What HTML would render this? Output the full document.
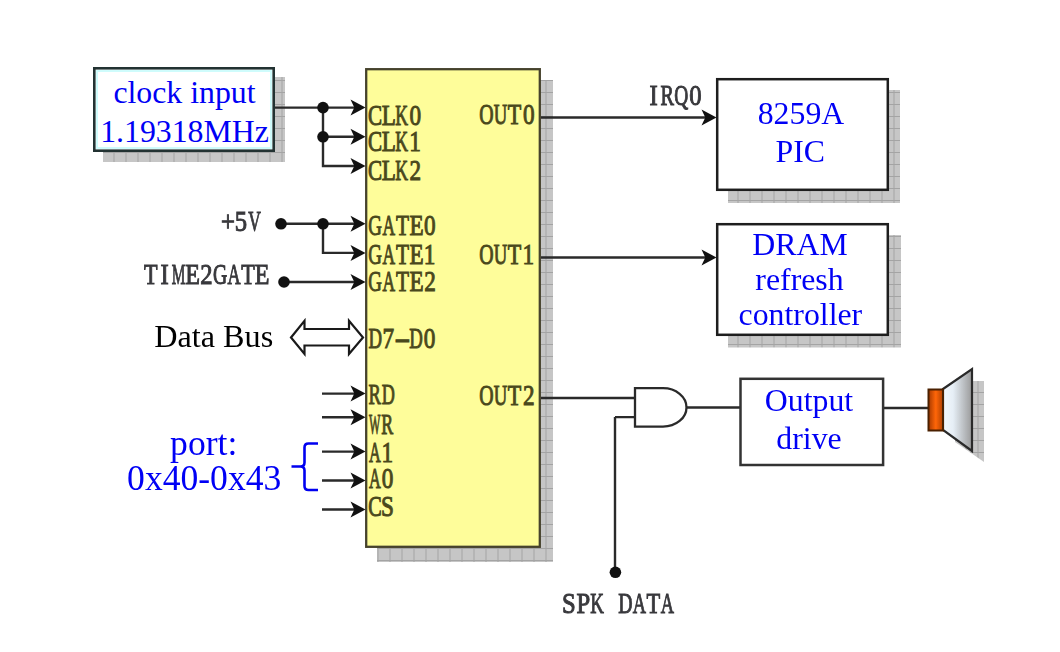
<!DOCTYPE html>
<html><head><meta charset="utf-8">
<style>
html,body{margin:0;padding:0;background:#fff;width:1060px;height:652px;overflow:hidden}
svg{display:block;filter:blur(0.35px)}
.chip{font-family:"Liberation Serif",serif;font-weight:normal;font-size:28.5px;fill:#3e3c14;stroke:#3e3c14;stroke-width:0.6}
.lbl{font-family:"Liberation Serif",serif;font-weight:bold;font-size:28px;fill:#3c3c40}
.blue{font-family:"Liberation Serif",serif;font-size:31.8px;fill:#0000f5;text-anchor:middle}
.blk{font-family:"Liberation Serif",serif;font-size:32.2px;fill:#000}
</style></head>
<body>
<svg width="1060" height="652" viewBox="0 0 1060 652">
<defs>
<pattern id="grid" x="5.5" y="8" width="12" height="12" patternUnits="userSpaceOnUse">
<rect width="12" height="12" fill="#c6c6c6"/>
<path d="M0 0.5H12M0.5 0V12" stroke="#a4a4a4" stroke-width="1"/>
</pattern>
<linearGradient id="org" x1="0" y1="0" x2="1" y2="0">
<stop offset="0" stop-color="#a83a00"/><stop offset="0.5" stop-color="#ff6608"/><stop offset="1" stop-color="#b04000"/>
</linearGradient>
<linearGradient id="cone" x1="0" y1="0" x2="1" y2="0">
<stop offset="0" stop-color="#f4f8fc"/><stop offset="0.35" stop-color="#e6eef6"/><stop offset="1" stop-color="#9a9a9a"/>
</linearGradient>
</defs>

<!-- clock input box -->
<rect x="103" y="77" width="182" height="85" fill="url(#grid)"/>
<rect x="94.3" y="68.3" width="179.4" height="82.4" fill="#fff" stroke="#223232" stroke-width="2.6"/>
<rect x="97" y="71" width="174" height="77" fill="none" stroke="#cffcfc" stroke-width="2"/>
<text class="blue" x="184.5" y="103">clock input</text>
<text class="blue" x="184.5" y="142.2">1.19318MHz</text>

<!-- chip -->
<rect x="377" y="80" width="176" height="482" fill="url(#grid)"/>
<rect x="366.2" y="69.2" width="173.6" height="477.6" fill="#fefd9a" stroke="#46422c" stroke-width="2.3"/>

<!-- chip labels -->
<g style="font-family:'Liberation Serif',serif;font-weight:normal;font-size:29px" fill="#4a481c"><text transform="translate(368.10,124.6) scale(0.730,1)" x="0" y="0" stroke="#4a481c" stroke-width="1.0">C</text><text transform="translate(381.73,124.6) scale(0.798,1)" x="0" y="0" stroke="#4a481c" stroke-width="1.0">L</text><text transform="translate(395.31,124.6) scale(0.610,1)" x="0" y="0" stroke="#4a481c" stroke-width="1.0">K</text><text transform="translate(409.49,124.6) scale(0.800,1)" x="0" y="0" stroke="#4a481c" stroke-width="1.0">0</text></g>
<g style="font-family:'Liberation Serif',serif;font-weight:normal;font-size:29px" fill="#4a481c"><text transform="translate(368.10,151.2) scale(0.730,1)" x="0" y="0" stroke="#4a481c" stroke-width="1.0">C</text><text transform="translate(381.73,151.2) scale(0.798,1)" x="0" y="0" stroke="#4a481c" stroke-width="1.0">L</text><text transform="translate(395.31,151.2) scale(0.610,1)" x="0" y="0" stroke="#4a481c" stroke-width="1.0">K</text><text transform="translate(409.16,151.2) scale(0.800,1)" x="0" y="0" stroke="#4a481c" stroke-width="1.0">1</text></g>
<g style="font-family:'Liberation Serif',serif;font-weight:normal;font-size:29px" fill="#4a481c"><text transform="translate(368.10,180) scale(0.730,1)" x="0" y="0" stroke="#4a481c" stroke-width="1.0">C</text><text transform="translate(381.73,180) scale(0.798,1)" x="0" y="0" stroke="#4a481c" stroke-width="1.0">L</text><text transform="translate(395.31,180) scale(0.610,1)" x="0" y="0" stroke="#4a481c" stroke-width="1.0">K</text><text transform="translate(409.62,180) scale(0.800,1)" x="0" y="0" stroke="#4a481c" stroke-width="1.0">2</text></g>
<g style="font-family:'Liberation Serif',serif;font-weight:normal;font-size:29px" fill="#4a481c"><text transform="translate(368.31,234.5) scale(0.652,1)" x="0" y="0" stroke="#4a481c" stroke-width="1.0">G</text><text transform="translate(382.57,234.5) scale(0.601,1)" x="0" y="0" stroke="#4a481c" stroke-width="1.0">A</text><text transform="translate(396.02,234.5) scale(0.736,1)" x="0" y="0" stroke="#4a481c" stroke-width="1.0">T</text><text transform="translate(409.40,234.5) scale(0.797,1)" x="0" y="0" stroke="#4a481c" stroke-width="1.0">E</text><text transform="translate(424.07,234.5) scale(0.800,1)" x="0" y="0" stroke="#4a481c" stroke-width="1.0">0</text></g>
<g style="font-family:'Liberation Serif',serif;font-weight:normal;font-size:29px" fill="#4a481c"><text transform="translate(368.31,263.6) scale(0.652,1)" x="0" y="0" stroke="#4a481c" stroke-width="1.0">G</text><text transform="translate(382.57,263.6) scale(0.601,1)" x="0" y="0" stroke="#4a481c" stroke-width="1.0">A</text><text transform="translate(396.02,263.6) scale(0.736,1)" x="0" y="0" stroke="#4a481c" stroke-width="1.0">T</text><text transform="translate(409.40,263.6) scale(0.797,1)" x="0" y="0" stroke="#4a481c" stroke-width="1.0">E</text><text transform="translate(423.75,263.6) scale(0.800,1)" x="0" y="0" stroke="#4a481c" stroke-width="1.0">1</text></g>
<g style="font-family:'Liberation Serif',serif;font-weight:normal;font-size:29px" fill="#4a481c"><text transform="translate(368.31,290.5) scale(0.652,1)" x="0" y="0" stroke="#4a481c" stroke-width="1.0">G</text><text transform="translate(382.57,290.5) scale(0.601,1)" x="0" y="0" stroke="#4a481c" stroke-width="1.0">A</text><text transform="translate(396.02,290.5) scale(0.736,1)" x="0" y="0" stroke="#4a481c" stroke-width="1.0">T</text><text transform="translate(409.40,290.5) scale(0.797,1)" x="0" y="0" stroke="#4a481c" stroke-width="1.0">E</text><text transform="translate(424.20,290.5) scale(0.800,1)" x="0" y="0" stroke="#4a481c" stroke-width="1.0">2</text></g>
<g style="font-family:'Liberation Serif',serif;font-weight:normal;font-size:29px" fill="#4a481c"><text transform="translate(368.44,348.2) scale(0.647,1)" x="0" y="0" stroke="#4a481c" stroke-width="1.0">D</text><text transform="translate(382.50,348.2) scale(0.800,1)" x="0" y="0" stroke="#4a481c" stroke-width="1.0">7</text><text transform="translate(394.47,348.2) scale(1.627,1)" x="0" y="0" stroke="#4a481c" stroke-width="1.0">-</text><text transform="translate(409.30,348.2) scale(0.647,1)" x="0" y="0" stroke="#4a481c" stroke-width="1.0">D</text><text transform="translate(423.79,348.2) scale(0.800,1)" x="0" y="0" stroke="#4a481c" stroke-width="1.0">0</text></g>
<g style="font-family:'Liberation Serif',serif;font-weight:normal;font-size:29px" fill="#4a481c"><text transform="translate(368.52,404.4) scale(0.641,1)" x="0" y="0" stroke="#4a481c" stroke-width="1.0">R</text><text transform="translate(381.69,404.4) scale(0.625,1)" x="0" y="0" stroke="#4a481c" stroke-width="1.0">D</text></g>
<g style="font-family:'Liberation Serif',serif;font-weight:normal;font-size:29px" fill="#4a481c"><text transform="translate(369.02,433.8) scale(0.417,1)" x="0" y="0" stroke="#4a481c" stroke-width="1.0">W</text><text transform="translate(381.17,433.8) scale(0.617,1)" x="0" y="0" stroke="#4a481c" stroke-width="1.0">R</text></g>
<g style="font-family:'Liberation Serif',serif;font-weight:normal;font-size:29px" fill="#4a481c"><text transform="translate(368.88,461.6) scale(0.563,1)" x="0" y="0" stroke="#4a481c" stroke-width="1.0">A</text><text transform="translate(381.48,461.6) scale(0.800,1)" x="0" y="0" stroke="#4a481c" stroke-width="1.0">1</text></g>
<g style="font-family:'Liberation Serif',serif;font-weight:normal;font-size:29px" fill="#4a481c"><text transform="translate(368.88,487.6) scale(0.563,1)" x="0" y="0" stroke="#4a481c" stroke-width="1.0">A</text><text transform="translate(381.80,487.6) scale(0.800,1)" x="0" y="0" stroke="#4a481c" stroke-width="1.0">0</text></g>
<g style="font-family:'Liberation Serif',serif;font-weight:normal;font-size:29px" fill="#4a481c"><text transform="translate(368.21,515.6) scale(0.696,1)" x="0" y="0" stroke="#4a481c" stroke-width="1.0">C</text><text transform="translate(381.09,515.6) scale(0.800,1)" x="0" y="0" stroke="#4a481c" stroke-width="1.0">S</text></g>
<g style="font-family:'Liberation Serif',serif;font-weight:normal;font-size:29px" fill="#4a481c"><text transform="translate(479.19,124.3) scale(0.685,1)" x="0" y="0" stroke="#4a481c" stroke-width="1.0">O</text><text transform="translate(493.74,124.3) scale(0.644,1)" x="0" y="0" stroke="#4a481c" stroke-width="1.0">U</text><text transform="translate(507.86,124.3) scale(0.761,1)" x="0" y="0" stroke="#4a481c" stroke-width="1.0">T</text><text transform="translate(522.94,124.3) scale(0.800,1)" x="0" y="0" stroke="#4a481c" stroke-width="1.0">0</text></g>
<g style="font-family:'Liberation Serif',serif;font-weight:normal;font-size:29px" fill="#4a481c"><text transform="translate(479.19,264.3) scale(0.685,1)" x="0" y="0" stroke="#4a481c" stroke-width="1.0">O</text><text transform="translate(493.74,264.3) scale(0.644,1)" x="0" y="0" stroke="#4a481c" stroke-width="1.0">U</text><text transform="translate(507.86,264.3) scale(0.761,1)" x="0" y="0" stroke="#4a481c" stroke-width="1.0">T</text><text transform="translate(522.61,264.3) scale(0.800,1)" x="0" y="0" stroke="#4a481c" stroke-width="1.0">1</text></g>
<g style="font-family:'Liberation Serif',serif;font-weight:normal;font-size:29px" fill="#4a481c"><text transform="translate(479.19,404.7) scale(0.685,1)" x="0" y="0" stroke="#4a481c" stroke-width="1.0">O</text><text transform="translate(493.74,404.7) scale(0.644,1)" x="0" y="0" stroke="#4a481c" stroke-width="1.0">U</text><text transform="translate(507.86,404.7) scale(0.761,1)" x="0" y="0" stroke="#4a481c" stroke-width="1.0">T</text><text transform="translate(523.07,404.7) scale(0.800,1)" x="0" y="0" stroke="#4a481c" stroke-width="1.0">2</text></g>

<!-- left side wires -->
<g stroke="#2a2a2a" stroke-width="2.4" fill="none">
<path d="M275 107.6H360M323 107.6V166H360M323 136.8H360"/>
<path d="M281 223.8H360M323 223.8V252.9H360"/>
<path d="M284 282H360"/>
<path d="M322 393.6H360M322 417.3H360M322 451.6H360M322 480.5H360M322 509.5H360"/>
</g>
<g fill="#111">
<circle cx="323" cy="107.6" r="5.8"/>
<circle cx="323" cy="136.8" r="5.8"/>
<circle cx="281" cy="223.8" r="5.8"/>
<circle cx="323" cy="223.8" r="5.8"/>
<circle cx="284" cy="282" r="5.8"/>
<path d="M365.5 107.6l-15-8 3.8 8-3.8 8z"/>
<path d="M365.5 136.8l-15-8 3.8 8-3.8 8z"/>
<path d="M365.5 166l-15-8 3.8 8-3.8 8z"/>
<path d="M365.5 223.8l-15-8 3.8 8-3.8 8z"/>
<path d="M365.5 252.9l-15-8 3.8 8-3.8 8z"/>
<path d="M365.5 282l-15-8 3.8 8-3.8 8z"/>
<path d="M365.5 393.6l-15-8 3.8 8-3.8 8z"/>
<path d="M365.5 417.3l-15-8 3.8 8-3.8 8z"/>
<path d="M365.5 451.6l-15-8 3.8 8-3.8 8z"/>
<path d="M365.5 480.5l-15-8 3.8 8-3.8 8z"/>
<path d="M365.5 509.5l-15-8 3.8 8-3.8 8z"/>
</g>

<!-- data bus arrow -->
<path d="M291 337.5L304.5 320.8V329H349V320.8L363 337.5L349 354V345.5H304.5V354Z" fill="#fff" stroke="#1a1a1a" stroke-width="2.2" stroke-linejoin="miter"/>
<text class="blk" x="154.3" y="346.7">Data Bus</text>

<!-- labels -->
<g style="font-family:'Liberation Serif',serif;font-weight:normal;font-size:29px" fill="#38383c"><text transform="translate(220.97,231.4) scale(0.850,1)" x="0" y="0" stroke="#38383c" stroke-width="1.0">+</text><text transform="translate(234.80,231.4) scale(0.850,1)" x="0" y="0" stroke="#38383c" stroke-width="1.0">5</text><text transform="translate(248.17,231.4) scale(0.601,1)" x="0" y="0" stroke="#38383c" stroke-width="1.0">V</text></g>
<g style="font-family:'Liberation Serif',serif;font-weight:normal;font-size:29px" fill="#38383c"><text transform="translate(143.95,283.6) scale(0.765,1)" x="0" y="0" stroke="#38383c" stroke-width="1.0">T</text><text transform="translate(160.52,283.6) scale(0.850,1)" x="0" y="0" stroke="#38383c" stroke-width="1.0">I</text><text transform="translate(171.69,283.6) scale(0.530,1)" x="0" y="0" stroke="#38383c" stroke-width="1.0">M</text><text transform="translate(185.33,283.6) scale(0.828,1)" x="0" y="0" stroke="#38383c" stroke-width="1.0">E</text><text transform="translate(200.28,283.6) scale(0.850,1)" x="0" y="0" stroke="#38383c" stroke-width="1.0">2</text><text transform="translate(212.99,283.6) scale(0.678,1)" x="0" y="0" stroke="#38383c" stroke-width="1.0">G</text><text transform="translate(227.51,283.6) scale(0.625,1)" x="0" y="0" stroke="#38383c" stroke-width="1.0">A</text><text transform="translate(241.18,283.6) scale(0.765,1)" x="0" y="0" stroke="#38383c" stroke-width="1.0">T</text><text transform="translate(254.78,283.6) scale(0.828,1)" x="0" y="0" stroke="#38383c" stroke-width="1.0">E</text></g>
<g style="font-family:'Liberation Serif',serif;font-weight:normal;font-size:29px" fill="#38383c"><text transform="translate(649.38,104.9) scale(0.850,1)" x="0" y="0" stroke="#38383c" stroke-width="1.0">I</text><text transform="translate(660.48,104.9) scale(0.698,1)" x="0" y="0" stroke="#38383c" stroke-width="1.0">R</text><text transform="translate(674.26,104.9) scale(0.669,1)" x="0" y="0" stroke="#38383c" stroke-width="1.0">Q</text><text transform="translate(689.34,104.9) scale(0.850,1)" x="0" y="0" stroke="#38383c" stroke-width="1.0">0</text></g>
<g style="font-family:'Liberation Serif',serif;font-weight:normal;font-size:29px" fill="#38383c"><text transform="translate(562.12,612.9) scale(0.850,1)" x="0" y="0" stroke="#38383c" stroke-width="1.0">S</text><text transform="translate(576.38,612.9) scale(0.850,1)" x="0" y="0" stroke="#38383c" stroke-width="1.0">P</text><text transform="translate(590.14,612.9) scale(0.653,1)" x="0" y="0" stroke="#38383c" stroke-width="1.0">K</text><text transform="translate(618.24,612.9) scale(0.683,1)" x="0" y="0" stroke="#38383c" stroke-width="1.0">D</text><text transform="translate(632.70,612.9) scale(0.633,1)" x="0" y="0" stroke="#38383c" stroke-width="1.0">A</text><text transform="translate(646.53,612.9) scale(0.774,1)" x="0" y="0" stroke="#38383c" stroke-width="1.0">T</text><text transform="translate(660.82,612.9) scale(0.633,1)" x="0" y="0" stroke="#38383c" stroke-width="1.0">A</text></g>

<!-- port label & brace -->
<text class="blue" style="font-size:35.6px" x="203.7" y="454.8">port:</text>
<text class="blue" style="font-size:35.6px" x="204.2" y="489.6">0x40-0x43</text>
<path d="M318 443.5H308.5Q304.5 443.5 304.5 447.5V462.5Q304.5 466.5 300.5 466.5H291.5M300.5 466.5Q304.5 466.5 304.5 470.5V486Q304.5 490 308.5 490H318" fill="none" stroke="#0000f0" stroke-width="2.6"/>

<!-- right side -->
<g stroke="#2a2a2a" stroke-width="2.4" fill="none">
<path d="M541 117.5H711"/>
<path d="M541 257.5H711"/>
<path d="M541 398H635"/>
<path d="M615 417.1H635M615 417.1V572"/>
<path d="M686.5 407.5H740"/>
<path d="M884 408H928"/>
</g>
<g fill="#111">
<path d="M716.5 117.5l-15-8 3.8 8-3.8 8z"/>
<path d="M716.5 257.5l-15-8 3.8 8-3.8 8z"/>
<circle cx="615.4" cy="572.3" r="5.8"/>
</g>

<!-- 8259A -->
<rect x="728" y="90" width="172" height="113" fill="url(#grid)"/>
<rect x="717.2" y="79.2" width="170.6" height="110.6" fill="#fff" stroke="#1e1e1e" stroke-width="2.5"/>
<text class="blue" x="801" y="123.7">8259A</text>
<text class="blue" x="800.2" y="162.1">PIC</text>

<!-- DRAM -->
<rect x="728" y="235" width="173" height="112.5" fill="url(#grid)"/>
<rect x="717.2" y="224.2" width="170.6" height="110.6" fill="#fff" stroke="#1e1e1e" stroke-width="2.5"/>
<text class="blue" x="800" y="255">DRAM</text>
<text class="blue" x="799.5" y="290">refresh</text>
<text class="blue" x="800.4" y="325.3">controller</text>

<!-- AND gate -->
<path d="M635 388.2H663A23.5 19.2 0 0 1 663 426.6H635Z" fill="#fff" stroke="#2a2a2a" stroke-width="2.3"/>

<!-- output drive -->
<rect x="740.5" y="378.8" width="142.6" height="86.2" fill="#fff" stroke="#333" stroke-width="2.5"/>
<text class="blue" x="809" y="411.4">Output</text>
<text class="blue" x="809" y="449.3">drive</text>

<!-- speaker -->
<polygon points="955,381 984,381 984,462 955,442" fill="url(#grid)"/>
<polygon points="943,389 972,369 972,451 943,430" fill="url(#cone)" stroke="#2a2a2a" stroke-width="2.2" stroke-linejoin="miter"/>
<rect x="928.5" y="389.5" width="14.5" height="41" fill="url(#org)" stroke="#4a2000" stroke-width="2"/>
</svg>
</body></html>
